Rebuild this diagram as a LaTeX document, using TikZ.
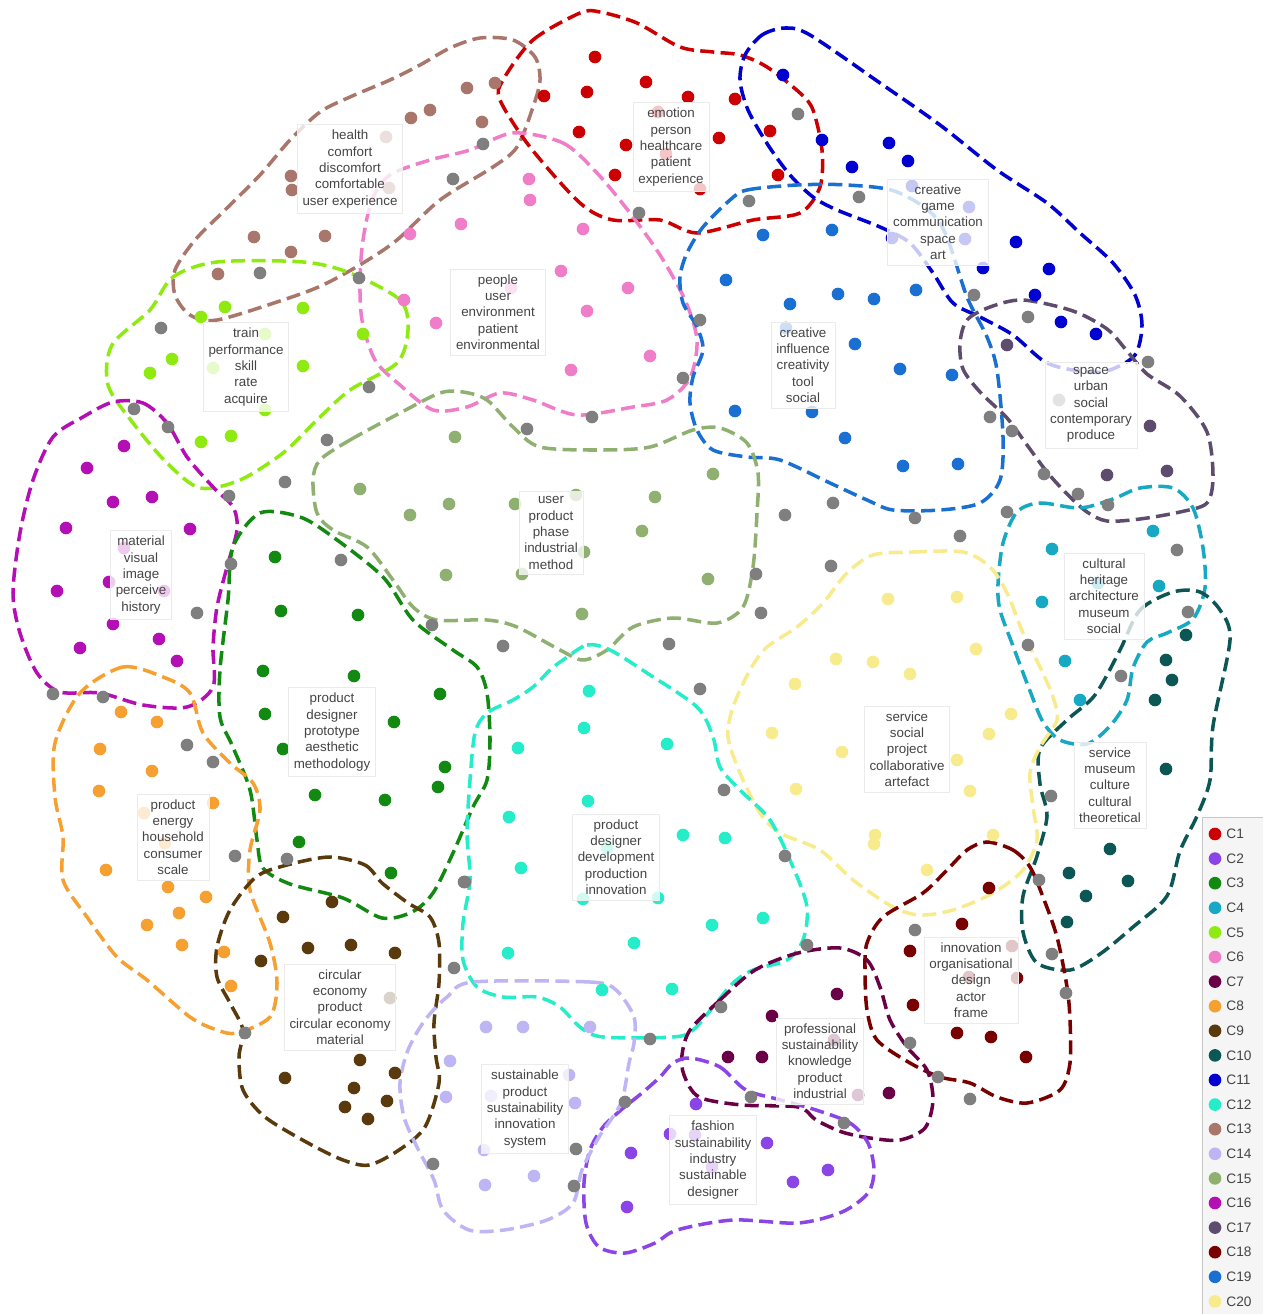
\documentclass[tikz,border=0pt]{standalone}
\usepackage{fontspec}
\setmainfont{Liberation Sans}
\definecolor{c1}{HTML}{CC0000}
\definecolor{c2}{HTML}{8B45E6}
\definecolor{c3}{HTML}{128A12}
\definecolor{c4}{HTML}{17A8C4}
\definecolor{c5}{HTML}{8EEA10}
\definecolor{c6}{HTML}{F07DC8}
\definecolor{c7}{HTML}{6A0046}
\definecolor{c8}{HTML}{F5A030}
\definecolor{c9}{HTML}{5A3A0C}
\definecolor{c10}{HTML}{0D5656}
\definecolor{c11}{HTML}{0000D0}
\definecolor{c12}{HTML}{25EDCA}
\definecolor{c13}{HTML}{A8766A}
\definecolor{c14}{HTML}{BEB6F4}
\definecolor{c15}{HTML}{8FB070}
\definecolor{c16}{HTML}{B40FB4}
\definecolor{c17}{HTML}{5E4C6E}
\definecolor{c18}{HTML}{780000}
\definecolor{c19}{HTML}{1A70D2}
\definecolor{c20}{HTML}{F7EB8D}
\definecolor{noise}{HTML}{7F7F7F}
\definecolor{wordgray}{HTML}{444444}
\newcommand{\clusterdots}[2]{\foreach \x/\y in {#2} \fill[#1] (\x,\y) circle (3.6pt);}
\tikzset{
  hull/.style={line width=2pt, dash pattern=on 8pt off 3.6pt},
  words/.style={font=\fontsize{7.6}{9.3}\selectfont, align=center, text=wordgray,
    fill=white, fill opacity=0.78, text opacity=1, draw=black!8, inner xsep=3pt, inner ysep=3pt},
  legtext/.style={font=\fontsize{7.8}{9}\selectfont, text=wordgray, anchor=west, inner sep=0pt}
}
\begin{document}
\begin{tikzpicture}[x=0.02cm, y=-0.02cm]
\useasboundingbox (0,0) rectangle (1262,1314);

% cluster hulls
\draw[hull,c13] plot[smooth cycle] coordinates {(480,38) (513,40) (535,57) (540,80) (533,107) (517,147) (493,167) (440,200) (397,240) (363,263) (323,285) (283,300) (217,320) (190,315) (175,295) (175,270) (195,240) (225,210) (260,175) (290,140) (320,112) (350,97) (390,80) (420,65) (450,48)};
\draw[hull,c1] plot[smooth cycle] coordinates {(503,80) (533,40) (580,13) (600,12) (637,23) (680,47) (713,52) (740,55) (767,67) (800,93) (813,110) (822,150) (820,187) (800,213) (753,220) (697,233) (660,220) (613,220) (580,203) (530,147) (500,100)};
\draw[hull,c11] plot[smooth cycle] coordinates {(745,55) (762,35) (785,28) (810,35) (880,83) (940,125) (997,170) (1047,203) (1080,233) (1113,263) (1135,295) (1142,325) (1135,355) (1110,370) (1087,372) (1047,363) (1013,335) (980,317) (953,303) (933,273) (910,243) (880,227) (837,210) (813,197) (790,175) (768,145) (748,110) (740,80)};
\draw[hull,c6] plot[smooth cycle] coordinates {(513,133) (563,143) (597,173) (630,213) (660,255) (685,300) (697,340) (690,378) (667,400) (633,407) (577,415) (533,400) (500,393) (467,407) (433,410) (400,385) (375,360) (362,320) (360,280) (363,240) (372,200) (390,175) (430,160) (470,150)};
\draw[hull,c5] plot[smooth cycle] coordinates {(150,310) (173,277) (217,262) (303,262) (350,273) (400,300) (408,330) (397,363) (350,390) (317,420) (283,453) (240,480) (200,488) (167,463) (133,423) (108,385) (112,345)};
\draw[hull,c19] plot[smooth cycle] coordinates {(730,200) (747,190) (797,185) (847,185) (897,192) (940,223) (967,297) (987,337) (997,370) (1003,437) (1000,480) (980,503) (940,510) (893,510) (867,500) (830,483) (780,460) (747,457) (713,450) (697,430) (690,403) (693,377) (703,350) (697,327) (683,303) (680,277) (687,253) (703,227)};
\draw[hull,c17] plot[smooth cycle] coordinates {(960,343) (967,320) (990,307) (1023,300) (1073,311) (1107,329) (1127,351) (1147,374) (1180,396) (1207,432) (1213,476) (1207,503) (1180,512) (1140,519) (1107,521) (1087,512) (1067,494) (1047,472) (1027,445) (1007,418) (980,392) (963,369)};
\draw[hull,c16] plot[smooth cycle] coordinates {(113,402) (143,403) (167,423) (187,457) (213,487) (233,507) (237,530) (227,567) (217,607) (213,647) (213,687) (187,707) (143,705) (100,693) (60,692) (37,673) (20,633) (13,593) (20,533) (33,480) (53,437) (83,417)};
\draw[hull,c15] plot[smooth cycle] coordinates {(320,460) (350,440) (400,413) (440,393) (463,392) (487,400) (513,427) (540,447) (600,450) (650,447) (693,430) (720,428) (747,443) (758,473) (757,513) (753,567) (743,607) (717,623) (673,618) (633,627) (607,650) (583,660) (560,650) (517,627) (487,620) (437,620) (413,607) (393,580) (367,547) (333,530) (317,513) (313,480)};
\draw[hull,c4] plot[smooth cycle] coordinates {(1017,512) (1040,503) (1080,508) (1113,499) (1140,488) (1173,488) (1193,508) (1203,548) (1205,588) (1193,619) (1167,633) (1147,642) (1133,668) (1127,700) (1110,726) (1087,744) (1060,740) (1043,722) (1030,691) (1013,646) (1000,610) (998,584) (1003,543)};
\draw[hull,c10] plot[smooth cycle] coordinates {(1120,650) (1140,610) (1173,592) (1200,592) (1220,610) (1230,640) (1213,726) (1210,780) (1197,816) (1180,851) (1167,896) (1133,927) (1100,954) (1070,970) (1037,963) (1023,932) (1023,896) (1037,856) (1047,816) (1040,784) (1040,749) (1067,720) (1095,695)};
\draw[hull,c20] plot[smooth cycle] coordinates {(873,555) (913,552) (963,552) (990,567) (1007,593) (1023,633) (1040,667) (1053,697) (1057,720) (1040,747) (1030,773) (1033,807) (1037,840) (1023,870) (993,893) (953,910) (920,915) (893,907) (853,880) (820,850) (780,833) (760,813) (740,773) (728,737) (733,707) (750,670) (767,647) (797,627) (823,603) (847,573)};
\draw[hull,c3] plot[smooth cycle] coordinates {(260,513) (300,517) (333,537) (383,577) (413,620) (453,650) (477,667) (487,693) (490,740) (487,780) (473,807) (453,853) (433,893) (412,912) (382,918) (343,898) (290,884) (263,868) (257,840) (250,790) (232,745) (220,717) (220,670) (228,600) (233,547)};
\draw[hull,c8] plot[smooth cycle] coordinates {(80,693) (123,667) (163,677) (190,693) (203,733) (230,763) (253,783) (260,810) (250,850) (250,890) (270,943) (277,983) (270,1017) (237,1033) (217,1030) (190,1017) (147,980) (117,957) (87,917) (63,880) (63,837) (55,797) (55,743)};
\draw[hull,c12] plot[smooth cycle] coordinates {(563,660) (587,645) (610,650) (647,673) (697,707) (713,737) (720,767) (740,790) (770,820) (793,867) (807,907) (803,940) (787,960) (753,970) (733,983) (713,1007) (693,1030) (673,1037) (603,1037) (580,1027) (560,1007) (537,997) (503,997) (477,987) (463,960) (463,923) (470,880) (467,833) (470,780) (475,733) (487,713) (513,700) (533,687) (550,670)};
\draw[hull,c9] plot[smooth cycle] coordinates {(330,857) (365,865) (382,883) (408,903) (430,917) (439,943) (439,983) (434,1023) (436,1057) (439,1083) (425,1127) (399,1150) (369,1165) (343,1160) (308,1143) (265,1117) (243,1090) (239,1057) (243,1030) (230,1003) (217,977) (217,947) (230,910) (256,877) (287,865)};
\draw[hull,c18] plot[smooth cycle] coordinates {(987,842) (1013,850) (1030,867) (1043,897) (1057,937) (1067,987) (1070,1020) (1070,1063) (1060,1090) (1027,1103) (997,1097) (970,1083) (940,1077) (910,1063) (877,1040) (867,1010) (865,970) (867,943) (883,917) (923,893) (947,870) (967,850)};
\draw[hull,c7] plot[smooth cycle] coordinates {(690,1030) (720,1000) (755,970) (798,953) (840,948) (867,960) (880,987) (890,1020) (907,1047) (927,1070) (933,1100) (925,1128) (900,1140) (870,1138) (842,1132) (816,1120) (798,1107) (742,1105) (699,1097) (684,1075) (682,1055)};
\draw[hull,c2] plot[smooth cycle] coordinates {(690,1058) (720,1067) (746,1090) (781,1100) (816,1110) (850,1123) (868,1143) (874,1170) (868,1193) (842,1212) (798,1223) (733,1220) (677,1230) (655,1243) (625,1253) (599,1247) (586,1223) (584,1183) (590,1150) (603,1127) (621,1110) (642,1093) (660,1077) (673,1063)};
\draw[hull,c14] plot[smooth cycle] coordinates {(473,982) (590,982) (616,990) (634,1017) (634,1043) (629,1063) (621,1103) (599,1137) (582,1170) (573,1203) (547,1220) (504,1230) (469,1230) (443,1210) (434,1180) (417,1147) (404,1117) (400,1083) (408,1050) (425,1020) (447,997)};

% points without a cluster
\clusterdots{noise}{483/144, 453/179, 639/213, 798/114, 749/201, 859/197, 260/273, 161/328, 359/278, 369/387, 168/427, 327/440, 285/482, 134/409, 229/496, 231/564, 197/613, 53/694, 103/697, 187/745, 213/762, 235/856, 287/859, 245/1033, 341/560, 527/429, 592/417, 432/625, 503/646, 669/644, 756/574, 761/613, 831/566, 700/689, 724/790, 785/856, 465/882, 454/968, 807/945, 721/1007, 650/1039, 464/882, 433/1164, 576/1149, 574/1186, 625/1102, 751/1097, 844/1123, 915/930, 1039/880, 1052/954, 1066/993, 910/1043, 938/1077, 970/1099, 1051/796, 1028/645, 1121/676, 1188/612, 1177/550, 1108/505, 1078/494, 1044/474, 1012/431, 990/417, 1007/512, 960/536, 915/518, 833/503, 785/515, 974/295, 1028/317, 1148/362, 700/320, 683/378, 1059/400}

% cluster points
\clusterdots{c1}{595/57, 646/82, 587/92, 544/96, 688/97, 735/99, 579/132, 626/145, 719/138, 770/131, 615/175, 778/175, 658/112, 666/154, 700/189}
\clusterdots{c11}{783/75, 822/140, 852/167, 889/143, 908/161, 983/268, 1016/242, 1049/269, 1035/295, 1061/322, 1096/334, 912/186, 969/207, 965/239, 892/238}
\clusterdots{c19}{763/235, 832/230, 726/280, 790/304, 838/294, 874/299, 916/290, 855/344, 900/369, 952/375, 735/411, 812/412, 845/438, 903/466, 958/464, 786/328}
\clusterdots{c13}{495/83, 467/88, 430/110, 411/118, 482/122, 291/176, 292/190, 254/237, 325/236, 291/252, 218/274, 386/137, 389/188}
\clusterdots{c6}{529/179, 530/200, 583/229, 461/224, 410/234, 561/271, 628/288, 587/311, 404/300, 436/323, 571/370, 650/356, 511/288}
\clusterdots{c5}{225/307, 303/308, 201/317, 172/359, 150/373, 303/366, 363/334, 201/442, 231/436, 265/334, 213/368, 265/410}
\clusterdots{c16}{124/446, 87/468, 113/502, 152/497, 66/528, 190/529, 57/591, 109/582, 164/591, 113/624, 159/639, 80/648, 177/661, 124/548}
\clusterdots{c17}{1007/345, 1150/426, 1107/475, 1167/471}
\clusterdots{c15}{455/437, 360/489, 449/504, 410/515, 515/504, 446/575, 582/614, 713/474, 655/497, 642/531, 708/579, 576/495, 584/552, 522/574}
\clusterdots{c4}{1052/549, 1153/531, 1159/586, 1042/602, 1065/661, 1080/700, 1098/583}
\clusterdots{c10}{1186/635, 1166/660, 1172/680, 1155/700, 1166/769, 1110/849, 1069/873, 1128/881, 1086/896, 1067/922}
\clusterdots{c20}{888/599, 957/597, 976/649, 836/659, 873/662, 910/674, 795/684, 1011/714, 772/733, 989/734, 842/752, 957/760, 796/789, 970/791, 875/835, 874/844, 993/835, 927/870}
\clusterdots{c3}{275/557, 281/611, 358/615, 263/671, 354/676, 440/694, 265/714, 394/722, 283/749, 445/767, 438/787, 315/795, 385/800, 299/842, 391/873}
\clusterdots{c8}{121/712, 157/722, 100/749, 152/771, 99/791, 213/803, 144/813, 165/843, 106/870, 168/887, 206/897, 179/913, 147/925, 182/945, 224/952, 231/986}
\clusterdots{c12}{589/691, 584/728, 518/748, 667/744, 588/801, 509/817, 683/835, 725/838, 521/868, 607/848, 583/899, 658/898, 712/925, 763/918, 634/943, 508/953, 602/990, 672/989}
\clusterdots{c9}{332/902, 283/917, 308/948, 351/945, 395/953, 261/961, 390/998, 360/1060, 395/1073, 285/1078, 354/1088, 387/1101, 345/1107, 368/1119}
\clusterdots{c18}{989/888, 962/924, 910/951, 913/1005, 957/1033, 991/1037, 1026/1057, 1012/946, 1017/978, 969/977}
\clusterdots{c7}{837/994, 772/1016, 728/1057, 762/1057, 889/1093, 858/1095, 834/1040}
\clusterdots{c2}{696/1104, 670/1134, 767/1143, 631/1153, 828/1170, 793/1182, 627/1207, 695/1135, 712/1167}
\clusterdots{c14}{486/1027, 523/1027, 590/1027, 450/1061, 446/1097, 485/1185, 534/1176, 569/1075, 575/1103, 484/1150, 491/1096}

% cluster keywords
\node[words] (wC1) at (671,147) {emotion\\person\\healthcare\\patient\\experience};
\node[words] (wC11) at (938,222) {creative\\game\\communication\\space\\art};
\node[words] (wC19) at (803,365) {creative\\influence\\creativity\\tool\\social};
\node[words] (wC17) at (1091,405) {space\\urban\\social\\contemporary\\produce};
\node[words] (wC13) at (350,169) {health\\comfort\\discomfort\\comfortable\\user experience};
\node[words] (wC6) at (498,312) {people\\user\\environment\\patient\\environmental};
\node[words] (wC5) at (246,367) {train\\performance\\skill\\rate\\acquire};
\node[words] (wC16) at (141,575) {material\\visual\\image\\perceive\\history};
\node[words] (wC15) at (551,533) {user\\product\\phase\\industrial\\method};
\node[words] (wC4) at (1104,596) {cultural\\heritage\\architecture\\museum\\social};
\node[words] (wC10) at (1110,785) {service\\museum\\culture\\cultural\\theoretical};
\node[words] (wC20) at (907,749) {service\\social\\project\\collaborative\\artefact};
\node[words] (wC3) at (332,732) {product\\designer\\prototype\\aesthetic\\methodology};
\node[words] (wC8) at (173,837) {product\\energy\\household\\consumer\\scale};
\node[words] (wC12) at (616,857) {product\\designer\\development\\production\\innovation};
\node[words] (wC9) at (340,1007) {circular\\economy\\product\\circular economy\\material};
\node[words] (wC18) at (971,980) {innovation\\organisational\\design\\actor\\frame};
\node[words] (wC7) at (820,1061) {professional\\sustainability\\knowledge\\product\\industrial};
\node[words] (wC14) at (525,1109) {sustainable\\product\\sustainability\\innovation\\system};
\node[words] (wC2) at (713,1160) {fashion\\sustainability\\industry\\sustainable\\designer};

% legend
\draw[black!22, fill=black!4] (1202,817) rectangle (1264,1318);
\foreach \k in {1,...,20} {
  \fill[c\k] (1215,{834+24.6*(\k-1)}) circle (3.6pt);
  \node[legtext] (leg\k) at (1226,{834+24.6*(\k-1)}) {C\k};
}
\end{tikzpicture}
\end{document}
